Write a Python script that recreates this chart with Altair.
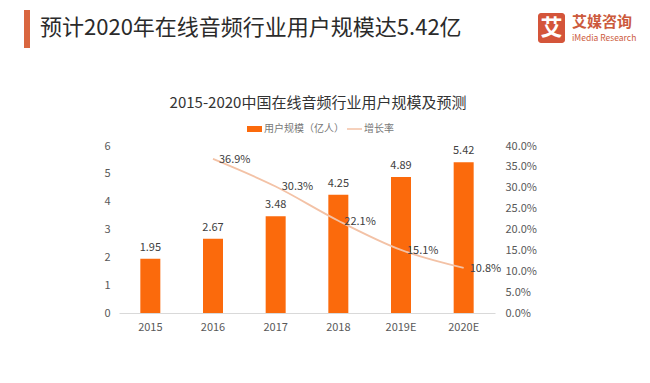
import altair as alt
import pandas as pd

years = ["2015", "2016", "2017", "2018", "2019E", "2020E"]
users = [1.95, 2.67, 3.48, 4.25, 4.89, 5.42]
growth_years = ["2016", "2017", "2018", "2019E", "2020E"]
growth = [0.369, 0.303, 0.221, 0.151, 0.108]
left_ticks = [0, 1, 2, 3, 4, 5, 6]
right_ticks = [0, 0.05, 0.1, 0.15, 0.2, 0.25, 0.3, 0.35, 0.4]

FONT = "Noto Sans CJK SC"
BAR = "#fb6a0c"
LINE = "#f3c2a6"

bars_df = pd.DataFrame({"year": years, "users": users})
line_df = pd.DataFrame({"year": growth_years, "growth": growth})

xenc = alt.X("year:N", sort=years, title=None,
             scale=alt.Scale(paddingInner=0, paddingOuter=0),
             axis=alt.Axis(labelAngle=0, domainColor="#d9d9d9", ticks=False,
                           labelPadding=8, labelFontSize=11, labelColor="#595959",
                           labelFont=FONT))

left_axis = alt.Axis(values=left_ticks, tickCount=7, domain=False, ticks=False, grid=False,
                     labelOverlap=False,
                     labelPadding=9, labelFontSize=11, labelColor="#595959", labelFont=FONT)
yl = alt.Y("users:Q", title=None, scale=alt.Scale(domain=[0, 6], nice=False), axis=left_axis)

bars = alt.Chart(bars_df).mark_bar(width=20, color=BAR).encode(x=xenc, y=yl)
bar_labels = alt.Chart(bars_df).mark_text(dy=-11, fontSize=11, color="#404040", font=FONT).encode(
    x=alt.X("year:N", sort=years),
    y=alt.Y("users:Q", title=None, axis=left_axis),
    text=alt.Text("users:Q", format=".2f"))
left = alt.layer(bars, bar_labels)

right_axis = alt.Axis(orient="right", format=".1%", values=right_ticks, tickCount=9,
                      domain=False, ticks=False, grid=False, labelPadding=10, labelOverlap=False,
                      labelFontSize=11, labelColor="#595959", labelFont=FONT)
yr = alt.Y("growth:Q", title=None, scale=alt.Scale(domain=[0, 0.4], nice=False), axis=right_axis)
line = alt.Chart(line_df).mark_line(color=LINE, strokeWidth=1.8, interpolate="monotone").encode(
    x=alt.X("year:N", sort=years), y=yr)
line_labels = alt.Chart(line_df).mark_text(align="left", dx=6, dy=1, fontSize=11, color="#404040", font=FONT).encode(
    x=alt.X("year:N", sort=years),
    y=alt.Y("growth:Q", title=None, axis=right_axis),
    text=alt.Text("growth:Q", format=".1%"))
right = alt.layer(line, line_labels)

one = pd.DataFrame({"a": [0]})
base = alt.Chart(one)

header_bar = base.mark_rect(color="#d9663f").encode(
    x=alt.value(-95), x2=alt.value(-89), y=alt.value(-136), y2=alt.value(-98))
header_text = base.mark_text(align="left", baseline="middle", fontSize=22, color="#2b2b2b", font=FONT).encode(
    x=alt.value(-79), y=alt.value(-118), text=alt.value("预计2020年在线音频行业用户规模达5.42亿"))
logo_box = base.mark_rect(color="#d4553a", cornerRadius=3).encode(
    x=alt.value(419), x2=alt.value(446), y=alt.value(-133), y2=alt.value(-103))
logo_char = base.mark_text(align="center", baseline="middle", fontSize=22, fontWeight="bold", color="white", font=FONT).encode(
    x=alt.value(432.5), y=alt.value(-118), text=alt.value("艾"))
logo_name = base.mark_text(align="left", baseline="middle", fontSize=15, fontWeight="bold", color="#cc5a3c", font=FONT).encode(
    x=alt.value(453), y=alt.value(-124), text=alt.value("艾媒咨询"))
logo_sub = base.mark_text(align="left", baseline="middle", fontSize=8.5, color="#cc5a3c", font=FONT).encode(
    x=alt.value(453), y=alt.value(-108), text=alt.value("iMedia Research"))

chart_title = base.mark_text(align="center", baseline="middle", fontSize=15, color="#333333", font=FONT).encode(
    x=alt.value(199), y=alt.value(-43), text=alt.value("2015-2020中国在线音频行业用户规模及预测"))
leg_rect = base.mark_rect(color=BAR).encode(
    x=alt.value(128), x2=alt.value(143), y=alt.value(-20), y2=alt.value(-14))
leg_t1 = base.mark_text(align="left", baseline="middle", fontSize=10, color="#777777", font=FONT).encode(
    x=alt.value(145), y=alt.value(-17), text=alt.value("用户规模（亿人）"))
leg_line = base.mark_rule(color=LINE, strokeWidth=1.5).encode(
    x=alt.value(228), x2=alt.value(243), y=alt.value(-17))
leg_t2 = base.mark_text(align="left", baseline="middle", fontSize=10, color="#777777", font=FONT).encode(
    x=alt.value(245), y=alt.value(-17), text=alt.value("增长率"))

deco = alt.layer(header_bar, header_text, logo_box, logo_char, logo_name, logo_sub,
                 chart_title, leg_rect, leg_t1, leg_line, leg_t2)

chart = alt.layer(left, right, deco).resolve_scale(y="independent").properties(
    width=376, height=167,
    padding={"left": 111, "top": 138, "right": 147, "bottom": 62},
    autosize=alt.AutoSizeParams(type="none"),
    background="white",
).configure_view(stroke=None).configure_axis(labelOverlap=False)

chart.save("out.html", embed_options={"renderer": "svg", "actions": False})
